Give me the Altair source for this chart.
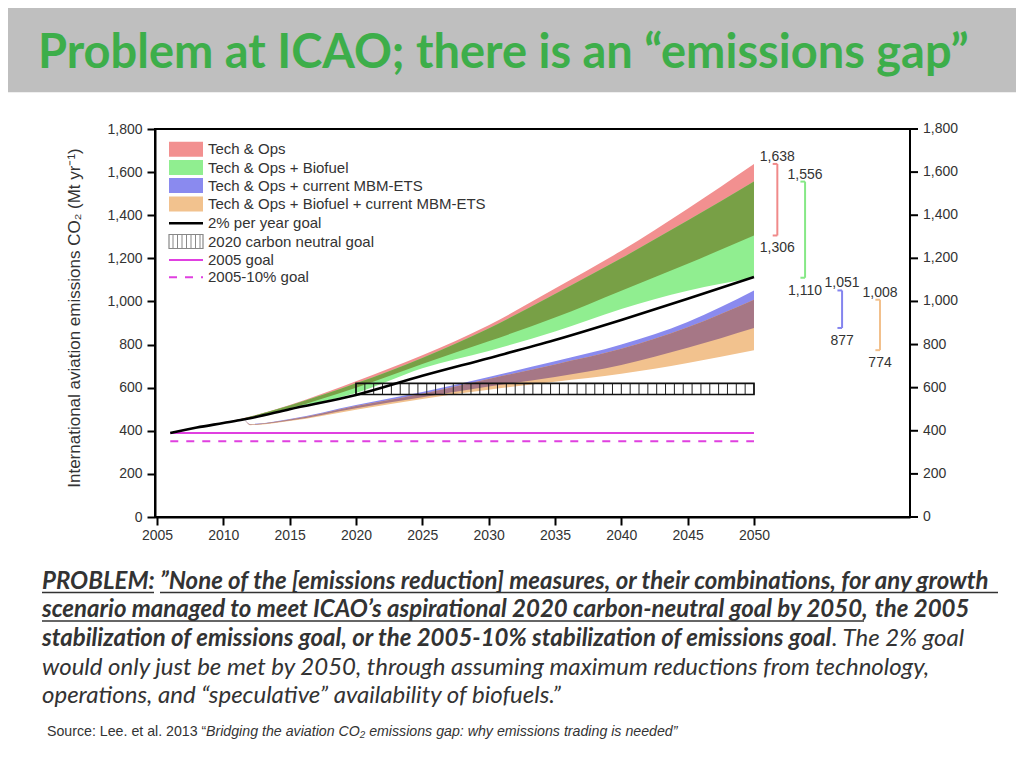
import altair as alt
import pandas as pd
import numpy as np

# ---------------- data ----------------
years = [2006, 2008, 2010, 2011.5, 2012, 2015, 2020, 2025, 2030, 2035, 2040, 2045, 2050]
techops_hi = [390, 415, 438, 458, 466, 520, 630, 750, 890, 1060, 1235, 1430, 1638]
techops_lo = [390, 415, 436, 455, 462, 505, 600, 710, 815, 925, 1050, 1175, 1306]
biofuel_hi = [390, 415, 438, 457, 465, 517, 620, 738, 875, 1035, 1200, 1375, 1556]
biofuel_lo = [390, 415, 436, 455, 461, 502, 575, 690, 770, 860, 965, 1050, 1110]
mbm_hi = [390, 415, 436, 452, 432, 455, 520, 580, 650, 722, 800, 905, 1051]
mbm_lo = [390, 415, 436, 452, 428, 448, 505, 555, 605, 650, 705, 785, 877]
biombm_hi = [390, 415, 436, 452, 430, 452, 515, 572, 640, 708, 780, 880, 1008]
biombm_lo = [390, 415, 436, 452, 426, 445, 498, 548, 590, 628, 665, 715, 774]
goal_2pct = [390, 415, 436, 452, 458, 500, 566, 655, 737, 821, 914, 1012, 1113]

goal_years = [2006, 2050]
goal_2005 = 390
goal_2005_10 = 351
cn_years = [2020, 2050]
cn_lo, cn_hi = 568, 620

bracket_x = [2051.76, 2053.85, 2056.64, 2059.5]
bracket_hi = [1638, 1556, 1051, 1008]
bracket_lo = [1306, 1110, 877, 774]
bracket_col = ["#F08A8A", "#86E886", "#8484EE", "#F2C08C"]

x_ticks = list(range(2005, 2051, 5))
y_ticks = list(range(0, 1801, 200))

legend_labels = ["Tech & Ops", "Tech & Ops + Biofuel", "Tech & Ops + current MBM-ETS",
                 "Tech & Ops + Biofuel + current MBM-ETS", "2% per year goal",
                 "2020 carbon neutral goal", "2005 goal", "2005-10% goal"]

C_RED, C_OLIVE, C_GREEN = "#F29090", "#78A046", "#90EE90"
C_BLUE, C_MAUVE, C_ORANGE = "#8A8AEF", "#A67786", "#F2C28E"
C_MAG = "#E040E0"

FONT = "Liberation Sans"
TXT = "#333333"

# ---------------- tables ----------------
df = pd.DataFrame({
    "year": years, "to_hi": techops_hi, "to_lo": techops_lo,
    "bio_hi": biofuel_hi, "bio_lo": biofuel_lo,
    "mbm_hi": mbm_hi, "mbm_lo": mbm_lo,
    "bm_hi": biombm_hi, "bm_lo": biombm_lo, "goal": goal_2pct,
})
df["ov1_hi"] = np.minimum(df.to_hi, df.bio_hi)
df["ov1_lo"] = np.maximum(df.to_lo, df.bio_lo)
df["ov2_hi"] = np.minimum(df.mbm_hi, df.bm_hi)
df["ov2_lo"] = np.maximum(df.mbm_lo, df.bm_lo)

goals = pd.DataFrame({"year": goal_years, "g05": [goal_2005] * 2, "g10": [goal_2005_10] * 2})
cn = pd.DataFrame({"x": [cn_years[0]], "x2": [cn_years[1]], "lo": [cn_lo], "hi": [cn_hi]})
hatch = pd.DataFrame({"x": np.arange(cn_years[0], cn_years[1] + 0.01, 30 / 45)})
hatch["lo"], hatch["hi"] = cn_lo, cn_hi

br = pd.DataFrame({"x": bracket_x, "hi": bracket_hi, "lo": bracket_lo, "c": bracket_col})
br["xt"] = br["x"] - 0.35
br["hi_t"] = br["hi"].map(lambda v: f"{v:,}")
br["lo_t"] = br["lo"].map(lambda v: f"{v:,}")
ticks = pd.DataFrame({"v": y_ticks})
one = pd.DataFrame({"a": [0]})

# ---------------- scales / axes ----------------
xscale = alt.Scale(domain=[2004.849, 2061.76], nice=False, zero=False)
yscale = alt.Scale(domain=[0, 1800], nice=False, zero=True)
xaxis = alt.Axis(values=x_ticks, labelExpr="format(datum.value, 'd')", title=None, grid=False,
                 tickSize=8, tickWidth=2, domainWidth=2, domainColor="black", tickColor="black",
                 labelFont=FONT, labelFontSize=14, labelColor=TXT, labelPadding=3)
yaxis = alt.Axis(values=y_ticks, labelExpr="format(datum.value, ',')", title=None, grid=False,
                 tickSize=8, tickWidth=2, domainWidth=2, domainColor="black", tickColor="black",
                 labelFont=FONT, labelFontSize=14, labelColor=TXT, labelPadding=5)


def X(f):
    return alt.X(f"{f}:Q", scale=xscale, axis=xaxis)


def Y(f):
    return alt.Y(f"{f}:Q", scale=yscale, axis=yaxis)


base = alt.Chart(df)


def band(hi, lo, color):
    return base.mark_area(color=color, opacity=1, interpolate="monotone").encode(
        x=X("year"), y=Y(hi), y2=alt.Y2(f"{lo}:Q"))


layers = [
    band("to_hi", "to_lo", C_RED),
    band("bio_hi", "bio_lo", C_GREEN),
    band("ov1_hi", "ov1_lo", C_OLIVE),
    band("mbm_hi", "mbm_lo", C_BLUE),
    band("bm_hi", "bm_lo", C_ORANGE),
    band("ov2_hi", "ov2_lo", C_MAUVE),
]

# carbon-neutral goal box with vertical hatch
layers.append(alt.Chart(hatch).mark_rule(color="#222", strokeWidth=1).encode(
    x=X("x"), y=Y("lo"), y2=alt.Y2("hi:Q")))
layers.append(alt.Chart(cn).mark_rect(fill=None, stroke="#111", strokeWidth=1.6, fillOpacity=0).encode(
    x=X("x"), x2=alt.X2("x2:Q"), y=Y("lo"), y2=alt.Y2("hi:Q")))

# goal lines
layers.append(alt.Chart(goals).mark_line(color=C_MAG, strokeWidth=2).encode(x=X("year"), y=Y("g05")))
layers.append(alt.Chart(goals).mark_line(color=C_MAG, strokeWidth=2, strokeDash=[8, 8]).encode(
    x=X("year"), y=Y("g10")))
layers.append(base.mark_line(color="black", strokeWidth=2.6, interpolate="monotone").encode(
    x=X("year"), y=Y("goal")))

# brackets
bc = alt.Chart(br)
col = alt.Color("c:N", scale=None)
layers.append(bc.mark_rule(strokeWidth=2).encode(x=X("x"), y=Y("lo"), y2=alt.Y2("hi:Q"), color=col))
layers.append(bc.mark_rule(strokeWidth=2).encode(x=X("xt"), x2=alt.X2("x:Q"), y=Y("hi"), color=col))
layers.append(bc.mark_rule(strokeWidth=2).encode(x=X("xt"), x2=alt.X2("x:Q"), y=Y("lo"), color=col))
layers.append(bc.mark_text(font=FONT, fontSize=14, color=TXT, align="center", baseline="alphabetic", dy=-3).encode(
    x=X("x"), y=Y("hi"), text="hi_t:N"))
layers.append(bc.mark_text(font=FONT, fontSize=14, color=TXT, align="center", baseline="top", dy=6).encode(
    x=X("x"), y=Y("lo"), text="lo_t:N"))

# right axis
layers.append(alt.Chart(ticks).mark_rule(color="black", strokeWidth=2).encode(
    x=alt.value(755), x2=alt.value(763), y=Y("v")))
layers.append(alt.Chart(ticks).mark_text(font=FONT, fontSize=14, color=TXT, align="left", baseline="middle").encode(
    x=alt.value(768), y=Y("v"), text=alt.Text("v:Q", format=",")))

# ---------------- legend ----------------
oc = alt.Chart(one)
sw_x, sw_x2 = 14, 48
rows_y = [20.3, 38.5, 56.5, 75, 94.3, 112.5, 131, 148.3]
for yc, c in zip(rows_y[:4], [C_RED, C_GREEN, C_BLUE, C_ORANGE]):
    layers.append(oc.mark_rect(fill=c).encode(x=alt.value(sw_x), x2=alt.value(sw_x2),
                                               y=alt.value(yc - 7.5), y2=alt.value(yc + 7.5)))
layers.append(oc.mark_rule(color="black", strokeWidth=2.6).encode(
    x=alt.value(sw_x), x2=alt.value(sw_x2), y=alt.value(rows_y[4])))
leg_h = pd.DataFrame({"px": np.arange(sw_x + 4, sw_x2, 4.5)})
layers.append(alt.Chart(leg_h).mark_rule(color="#888", strokeWidth=1).encode(
    x=alt.X("px:Q", scale=None), y=alt.value(rows_y[5] - 7), y2=alt.value(rows_y[5] + 7)))
layers.append(oc.mark_rect(fill=None, stroke="#888", strokeWidth=1.2, fillOpacity=0).encode(
    x=alt.value(sw_x), x2=alt.value(sw_x2), y=alt.value(rows_y[5] - 7), y2=alt.value(rows_y[5] + 7)))
layers.append(oc.mark_rule(color=C_MAG, strokeWidth=2).encode(
    x=alt.value(sw_x), x2=alt.value(sw_x2), y=alt.value(rows_y[6])))
layers.append(oc.mark_rule(color=C_MAG, strokeWidth=2, strokeDash=[8, 8]).encode(
    x=alt.value(sw_x), x2=alt.value(sw_x2), y=alt.value(rows_y[7])))
leg_df = pd.DataFrame({"t": legend_labels, "py": rows_y})
layers.append(alt.Chart(leg_df).mark_text(font=FONT, fontSize=15, color=TXT, align="left", baseline="middle").encode(
    x=alt.value(53), y=alt.Y("py:Q", scale=None), text="t:N"))

# y axis title
layers.append(oc.mark_text(font=FONT, fontSize=17, color=TXT, angle=270, align="center", baseline="middle").encode(
    x=alt.value(-80), y=alt.value(189), text=alt.value("International aviation emissions CO\u2082 (Mt yr\u207b\u00b9)")))

# ---------------- slide decoration: title bar + texts ----------------
layers.append(oc.mark_rect(fill="#BFBFBF").encode(
    x=alt.value(-147), x2=alt.value(861), y=alt.value(-121), y2=alt.value(-36.7)))
layers.append(oc.mark_text(font="Lato", fontWeight="bold", fontSize=47, color="#3DAE4A", align="left",
                           baseline="alphabetic").encode(
    x=alt.value(-117), y=alt.value(-61), text=alt.value("Problem at ICAO; there is an \u201cemissions gap\u201d")))


def txt(s, x, y, weight="normal", style="italic", size=24, font="Lato"):
    return oc.mark_text(font=font, fontWeight=weight, fontStyle=style, fontSize=size, color=TXT,
                        align="left", baseline="alphabetic").encode(
        x=alt.value(x), y=alt.value(y), text=alt.value(s))


def uline(x1, x2, y):
    return oc.mark_rule(color=TXT, strokeWidth=1.5).encode(x=alt.value(x1), x2=alt.value(x2), y=alt.value(y))


layers += [
    txt("PROBLEM:", -113, 460.3, weight="bold"),
    uline(-113, -1, 463.5),
    txt("\u201dNone of the [emissions reduction] measures, or their combinations, for any growth",
        5, 460.3, weight="bold"),
    uline(5, 843, 463.5),
    txt("scenario managed to meet ICAO\u2019s aspirational 2020 carbon-neutral goal by 2050,", -113, 488.3, weight="bold"),
    uline(-113, 709, 492),
    txt("the 2005", 720, 488.3, weight="bold"),
    txt("stabilization of emissions goal, or the 2005-10% stabilization of emissions goal", -113, 517, weight="bold"),
    txt(". The 2% goal", 677, 517),
    txt("would only just be met by 2050, through assuming maximum reductions from technology,", -113, 546),
    txt("operations, and \u201cspeculative\u201d availability of biofuels.\u201d", -113, 574.3),
    txt("Source: Lee. et al. 2013 \u201c", -108, 607, style="normal", size=14.2, font=FONT),
    txt("Bridging the aviation CO\u2082 emissions gap: why emissions trading is needed\u201d", 51, 607,
        size=14.2, font=FONT),
]

chart = alt.layer(*layers).properties(
    width=755, height=388,
    autosize=alt.AutoSizeParams(type="none"),
    padding={"left": 147, "top": 121, "right": 106, "bottom": 243},
).configure_view(stroke="black", strokeWidth=2)

chart.save("out.html", embed_options={"renderer": "svg", "actions": False})
